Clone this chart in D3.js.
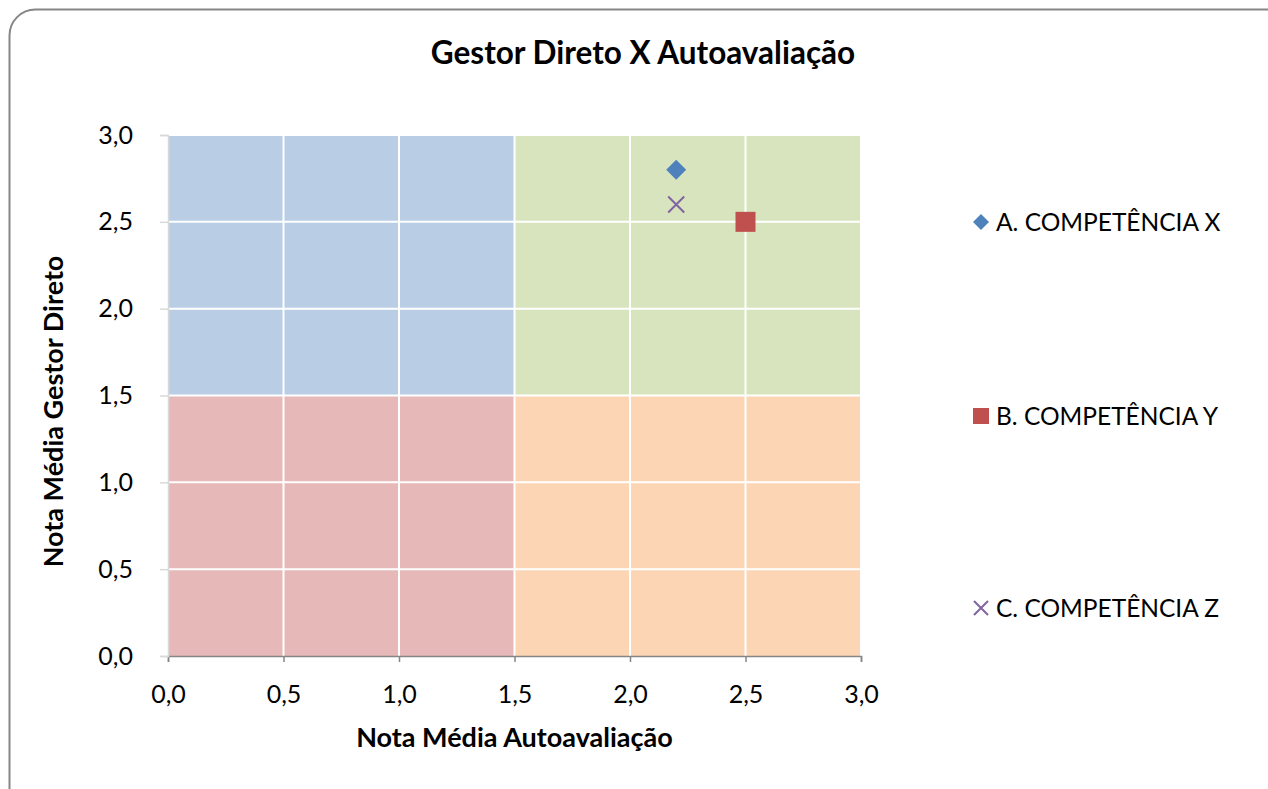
<!DOCTYPE html>
<html lang="pt">
  <head>
    <meta charset="utf-8" />
    <title>Gestor Direto X Autoavaliação</title>
    <script src="https://d3js.org/d3.v7.min.js"></script>
    <style>
      body { margin: 0; background: #fff; }
      text { font-family: Lato, "Open Sans", sans-serif; fill: #000; }
    </style>
  </head>
  <body>
    <div id="chart"></div>
    <script>
      // data
      const series = ["A. COMPETÊNCIA X", "B. COMPETÊNCIA Y", "C. COMPETÊNCIA Z"];
      const autoScores = [2.2, 2.5, 2.2];
      const gestorScores = [2.8, 2.5, 2.6];
      const seriesColors = ["#4F81BD", "#C0504D", "#8064A2"];
      const seriesShapes = ["diamond", "square", "cross"];
      const tickValues = [0, 0.5, 1, 1.5, 2, 2.5, 3];

      // quadrants: [x0, x1, y0, y1]
      const quadX0 = [0, 1.5, 0, 1.5];
      const quadX1 = [1.5, 3, 1.5, 3];
      const quadY0 = [1.5, 1.5, 0, 0];
      const quadY1 = [3, 3, 1.5, 1.5];
      const quadColors = ["#B9CDE5", "#D7E4BD", "#E6B9B8", "#FCD5B5"];

      const cW = 1268, cH = 789;
      const plot = { left: 168, right: 861, top: 135, bottom: 656 };

      const svg = d3.select("#chart").append("svg")
        .attr("width", cW).attr("height", cH);

      // outer frame
      svg.append("rect")
        .attr("x", 9.5).attr("y", 9.5)
        .attr("width", 1290).attr("height", 820)
        .attr("rx", 26).attr("ry", 26)
        .attr("fill", "#fff")
        .attr("stroke", "#868686").attr("stroke-width", 2);

      svg.append("text")
        .attr("x", 643).attr("y", 64)
        .attr("text-anchor", "middle")
        .attr("font-size", 31.5).attr("font-weight", "bold")
        .text("Gestor Direto X Autoavaliação");

      const x = d3.scaleLinear().domain([0, 3]).range([plot.left, plot.right]);
      const y = d3.scaleLinear().domain([0, 3]).range([plot.bottom, plot.top]);

      // quadrants
      svg.append("g").selectAll("rect")
        .data(quadColors)
        .join("rect")
        .attr("x", (d, i) => x(quadX0[i]))
        .attr("y", (d, i) => y(quadY1[i]))
        .attr("width", (d, i) => x(quadX1[i]) - x(quadX0[i]))
        .attr("height", (d, i) => y(quadY0[i]) - y(quadY1[i]))
        .attr("fill", d => d);

      // gridlines
      const grid = svg.append("g").attr("stroke", "#fff").attr("stroke-width", 2);
      grid.selectAll(".gx").data(tickValues.slice(1)).join("line")
        .attr("x1", d => x(d)).attr("x2", d => x(d))
        .attr("y1", plot.top).attr("y2", plot.bottom);
      grid.selectAll(".gy").data(tickValues.slice(1)).join("line")
        .attr("y1", d => y(d)).attr("y2", d => y(d))
        .attr("x1", plot.left).attr("x2", plot.right);

      const fmt = d => d3.format(".1f")(d).replace(".", ",");

      const xAxis = svg.append("g")
        .attr("transform", `translate(0,${plot.bottom})`)
        .call(d3.axisBottom(x).tickValues(tickValues).tickFormat(fmt).tickSize(6).tickPadding(23));
      const yAxis = svg.append("g")
        .attr("transform", `translate(${plot.left},0)`)
        .call(d3.axisLeft(y).tickValues(tickValues).tickFormat(fmt).tickSize(8).tickPadding(27));
      [xAxis, yAxis].forEach(a => {
        a.select(".domain").attr("stroke", "#868686").attr("stroke-width", 1.5);
        a.selectAll(".tick line").attr("stroke", "#868686").attr("stroke-width", 1.5);
        a.selectAll(".tick text").attr("font-size", 25).attr("fill", "#000")
          .style("font-family", "Lato, 'Open Sans', sans-serif");
      });
      yAxis.select(".domain").attr("stroke", "#D9D9D9");
      yAxis.selectAll(".tick line").attr("stroke", "#D9D9D9");

      svg.append("text")
        .attr("x", (plot.left + plot.right) / 2).attr("y", 747)
        .attr("text-anchor", "middle")
        .attr("font-size", 27).attr("font-weight", "bold")
        .text("Nota Média Autoavaliação");
      svg.append("text")
        .attr("transform", `translate(63,${(plot.top + plot.bottom) / 2 + 16}) rotate(-90)`)
        .attr("text-anchor", "middle")
        .attr("font-size", 27).attr("font-weight", "bold")
        .text("Nota Média Gestor Direto");

      function drawMarker(g, shape, color, size) {
        if (shape === "diamond") {
          g.append("path").attr("d", `M0,${-size}L${size},0L0,${size}L${-size},0Z`).attr("fill", color);
        } else if (shape === "square") {
          g.append("rect").attr("x", -size).attr("y", -size)
            .attr("width", size * 2).attr("height", size * 2).attr("fill", color);
        } else {
          g.append("path").attr("d", `M${-size},${-size}L${size},${size}M${size},${-size}L${-size},${size}`)
            .attr("stroke", color).attr("stroke-width", 2).attr("fill", "none");
        }
      }

      // points
      series.forEach((s, i) => {
        const g = svg.append("g")
          .attr("transform", `translate(${x(autoScores[i])},${y(gestorScores[i])})`);
        const sz = seriesShapes[i] === "square" ? 10 : seriesShapes[i] === "diamond" ? 10 : 8;
        drawMarker(g, seriesShapes[i], seriesColors[i], sz);
      });

      // legend
      const legendY = [222, 416, 608];
      series.forEach((s, i) => {
        const g = svg.append("g").attr("transform", `translate(981,${legendY[i]})`);
        const sz = seriesShapes[i] === "square" ? 8 : seriesShapes[i] === "diamond" ? 8 : 7;
        drawMarker(g, seriesShapes[i], seriesColors[i], sz);
        g.append("text").attr("x", 15).attr("y", 0).attr("dy", "0.35em")
          .attr("font-size", 24.5).text(s);
      });
    </script>
  </body>
</html>
